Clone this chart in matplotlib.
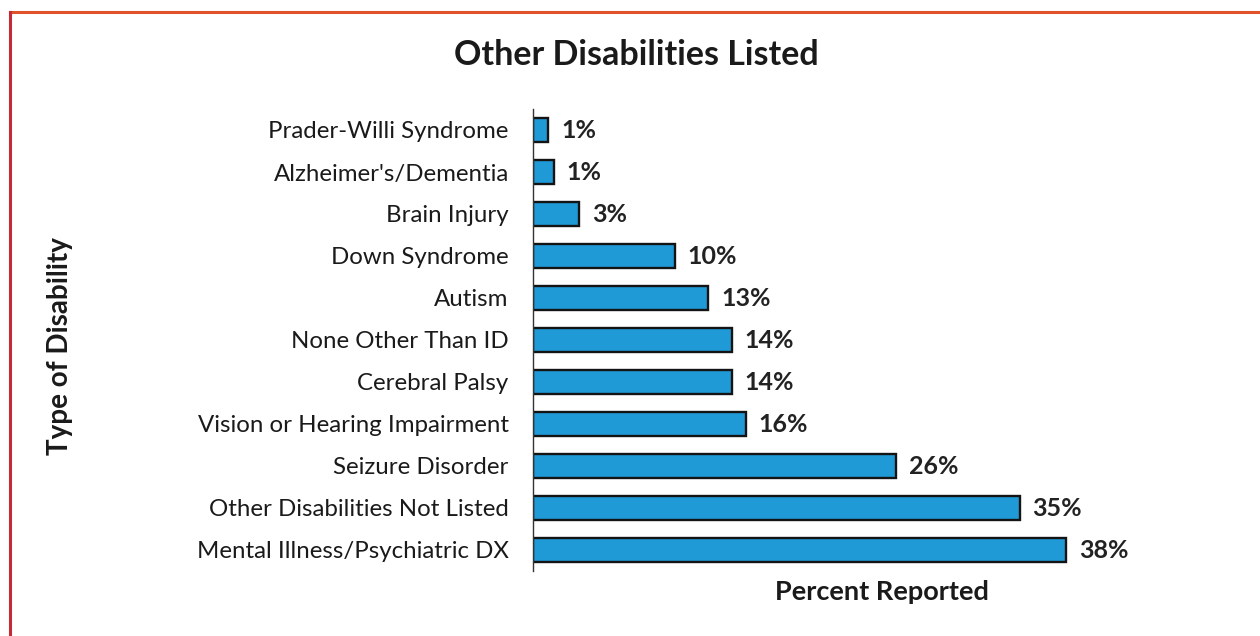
import matplotlib
matplotlib.use("Agg")
import matplotlib.pyplot as plt
from matplotlib.lines import Line2D

categories = ["Prader-Willi Syndrome", "Alzheimer's/Dementia", "Brain Injury",
              "Down Syndrome", "Autism", "None Other Than ID", "Cerebral Palsy",
              "Vision or Hearing Impairment", "Seizure Disorder",
              "Other Disabilities Not Listed", "Mental Illness/Psychiatric DX"]
values = [1.1, 1.5, 3.3, 10.1, 12.5, 14.2, 14.2, 15.2, 25.9, 34.7, 38.0]
value_labels = ["1%", "1%", "3%", "10%", "13%", "14%", "14%", "16%", "26%", "35%", "38%"]

FONT = ["Lato", "DejaVu Sans"]
plt.rcParams['font.family'] = FONT

W, H = 1260, 636
fig = plt.figure(figsize=(W / 100, H / 100), dpi=100)
fig.patch.set_facecolor("white")

left, right = 533, 1200
top, bottom = 109, 571
ax = fig.add_axes([left / W, 1 - bottom / H, (right - left) / W, (bottom - top) / H])

ypos = list(range(len(categories)))
ax.barh(ypos, values, height=0.58, color="#1f9ad6", edgecolor="#141414", linewidth=1.7)
ax.set_ylim(len(categories) - 0.5, -0.5)
ax.set_xlim(0, (right - left) / 14.03)

for y, v, lab in zip(ypos, values, value_labels):
    ax.text(v + 0.9, y, lab, va="center", ha="left", fontsize=18, fontweight="bold", color="#222222")

ax.set_yticks(ypos)
ax.set_yticklabels(categories, fontsize=17.3, color="#1a1a1a")
ax.tick_params(axis="y", length=0, pad=17.5)
ax.set_xticks([])
for s in ["top", "right", "bottom"]:
    ax.spines[s].set_visible(False)
ax.spines["left"].set_color("#333333")
ax.spines["left"].set_linewidth(1.0)

fig.text(636 / W, 1 - 55 / H, "Other Disabilities Listed", ha="center", va="center",
         fontsize=24.5, fontweight="bold", color="#1a1a1a")
fig.text(882 / W, 1 - 592 / H, "Percent Reported", ha="center", va="center",
         fontsize=19.5, fontweight="bold", color="#1a1a1a")
fig.text(60 / W, 1 - 346 / H, "Type of Disability", ha="center", va="center", rotation=90,
         fontsize=20, fontweight="bold", color="#1a1a1a")

# page border
fig.add_artist(Line2D([10 / W, 1.0], [1 - 12 / H, 1 - 12 / H], transform=fig.transFigure,
                      color="#e0522a", linewidth=2.2))
fig.add_artist(Line2D([10 / W, 10 / W], [1 - 12 / H, 0.0], transform=fig.transFigure,
                      color="#c62a36", linewidth=2.2))

fig.savefig("out.png", dpi=100, facecolor="white")
